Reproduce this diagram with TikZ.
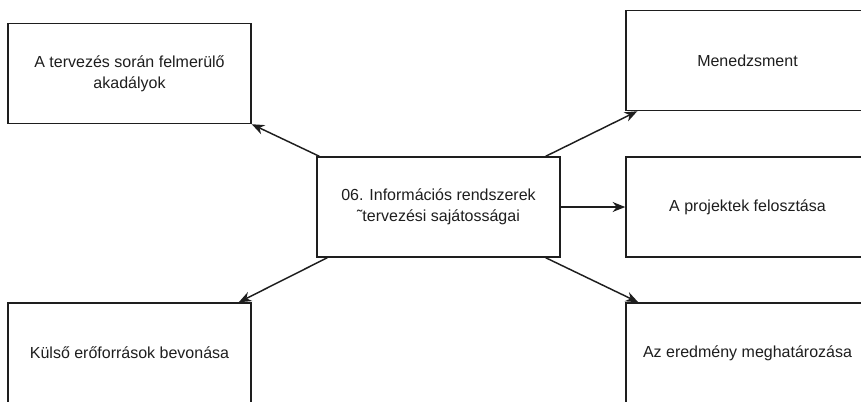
\documentclass[tikz,border=0pt]{standalone}
\usepackage{fontspec}
\setmainfont{Liberation Sans}
\usetikzlibrary{calc,arrows.meta}
\definecolor{ink}{RGB}{30,30,30}
\tikzset{
  box/.style={draw=ink, line width=1.1pt, fill=white, minimum width=182.25pt,
    minimum height=75pt, align=center, text=ink, inner sep=2pt,
    font=\fontsize{12}{15.75}\selectfont},
  link/.style={draw=ink, line width=1.1pt, -{Stealth[length=9.5pt,width=7.5pt]}}
}
\begin{document}
\begin{tikzpicture}[x=0.75pt,y=-0.75pt]
  \useasboundingbox (0,0) rectangle (861,401);
  % central topic
  \node[box] (c) at (438.5,207) {06. Információs rendszerek\\˜tervezési sajátosságai};
  % surrounding topics
  \node[box] (tl) at (129.5,73.5) {A tervezés során felmerülő\\akadályok};
  \node[box] (men) at (747.5,60.5) {Menedzsment};
  \node[box] (proj) at (747.5,207) {A projektek felosztása};
  \node[box] (ext) at (129.5,353) {Külső erőforrások bevonása};
  \node[box] (res) at (747.5,353) {Az eredmény meghatározása};
  % connectors from the central topic
  \draw[link] ($(c.north west)+(3,0)$) -- (tl.south east);
  \draw[link] ($(c.north east)+(-15,0)$) -- ($(men.south west)+(12,0)$);
  \draw[link] (c.east) -- (proj.west);
  \draw[link] ($(c.south east)+(-15,0)$) -- ($(res.north west)+(13,0)$);
  \draw[link] ($(c.south west)+(11,0)$) -- ($(ext.north east)+(-13,0)$);
\end{tikzpicture}
\end{document}
